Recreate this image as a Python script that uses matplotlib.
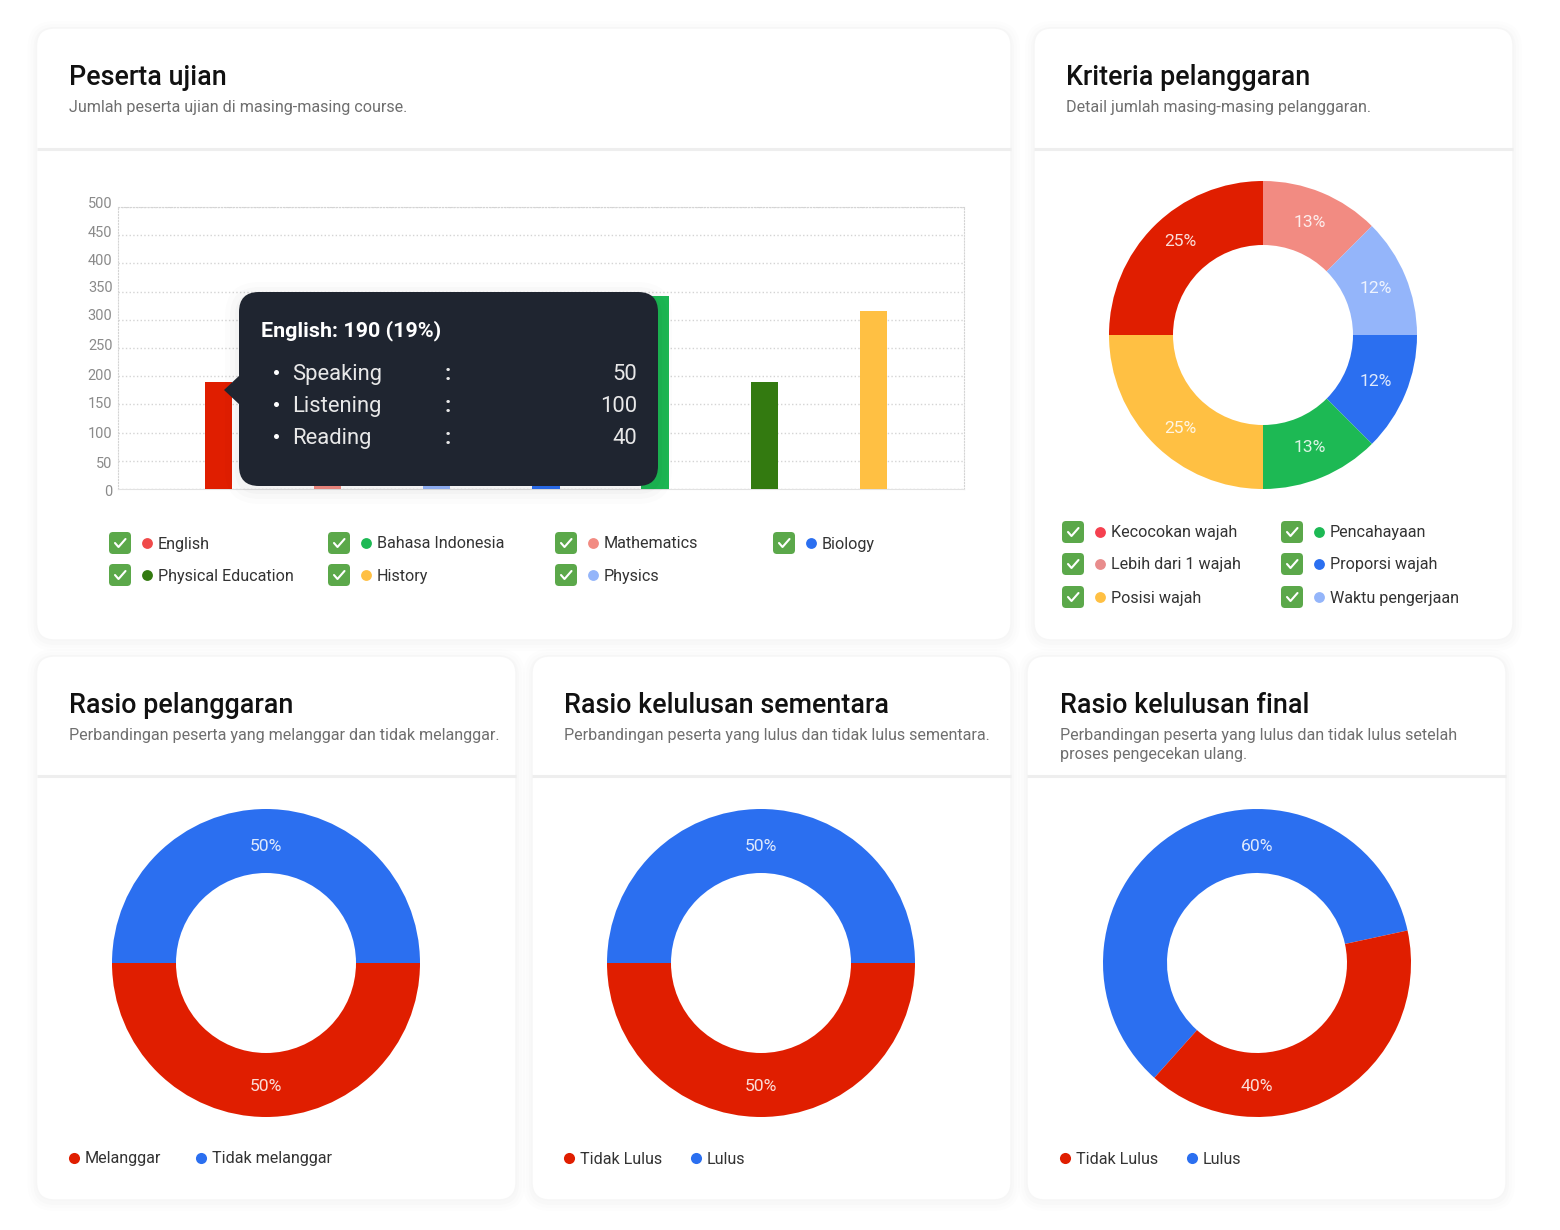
import matplotlib
matplotlib.use("Agg")
import matplotlib.pyplot as plt
from matplotlib.patches import FancyBboxPatch, Polygon
from matplotlib.transforms import ScaledTranslation

W, H = 1560, 1230

RED = "#E01E00"
SALMON = "#F28B82"
LIGHT_BLUE = "#94B5FA"
BLUE = "#2B6FF0"
GREEN = "#1DB954"
DARK_GREEN = "#337A10"
YELLOW = "#FFC043"

# bar chart
courses = ["English", "Mathematics", "Physics", "Biology", "Bahasa Indonesia", "Physical Education", "History"]
course_values = [190, 120, 90, 110, 342, 190, 315]
course_colors = [RED, SALMON, LIGHT_BLUE, BLUE, GREEN, DARK_GREEN, YELLOW]
y_ticks = [0, 50, 100, 150, 200, 250, 300, 350, 400, 450, 500]

tooltip_title = "English: 190 (19%)"
tooltip_labels = ["Speaking", "Listening", "Reading"]
tooltip_values = [50, 100, 40]

# donuts
criteria_values = [12.5, 12.5, 12.5, 12.5, 25, 25]
criteria_labels = ["13%", "12%", "12%", "13%", "25%", "25%"]
criteria_colors = [SALMON, LIGHT_BLUE, BLUE, GREEN, YELLOW, RED]
violation_values = [50, 50]
temp_pass_values = [50, 50]
final_pass_values = [60, 40]

legend_course = [
    ("English", "#F04A4A"), ("Bahasa Indonesia", GREEN), ("Mathematics", SALMON), ("Biology", BLUE),
    ("Physical Education", DARK_GREEN), ("History", YELLOW), ("Physics", LIGHT_BLUE),
]
legend_criteria = [
    ("Kecocokan wajah", "#F5404F"), ("Pencahayaan", GREEN), ("Lebih dari 1 wajah", "#E88C8C"),
    ("Proporsi wajah", BLUE), ("Posisi wajah", YELLOW), ("Waktu pengerjaan", LIGHT_BLUE),
]

plt.rcParams["font.family"] = ["Roboto", "DejaVu Sans"]

fig = plt.figure(figsize=(W / 100, H / 100), dpi=100, facecolor="white")


def px_axes(x0, y0, x1, y1, zorder=1):
    return fig.add_axes([x0 / W, 1 - y1 / H, (x1 - x0) / W, (y1 - y0) / H], zorder=zorder)


def pt(px):
    return px * 0.72


bg = px_axes(0, 0, W, H, zorder=0)
bg.set_xlim(0, W)
bg.set_ylim(H, 0)
bg.axis("off")

top = px_axes(0, 0, W, H, zorder=5)
top.set_xlim(0, W)
top.set_ylim(H, 0)
top.axis("off")
top.patch.set_alpha(0)


def card(x0, y0, x1, y1, divider, title, subtitle):
    for grow, alpha in [(9, 0.006), (6, 0.008), (3, 0.012)]:
        bg.add_patch(FancyBboxPatch((x0 - grow, y0 - grow + 2), x1 - x0 + 2 * grow, y1 - y0 + 2 * grow,
                                    boxstyle="round,pad=0,rounding_size=%d" % (18 + grow),
                                    fc="black", ec="none", alpha=alpha))
    bg.add_patch(FancyBboxPatch((x0, y0), x1 - x0, y1 - y0, boxstyle="round,pad=0,rounding_size=18",
                                fc="white", ec="#F6F6F6", lw=1))
    bg.plot([x0, x1], [divider, divider], color="#EEEEEE", lw=2.2, solid_capstyle="butt")
    tx = x0 + 32.5
    bg.text(tx, y0 + 57, title, fontsize=pt(26.9), weight="medium", color="#111111", va="baseline")
    for i, line in enumerate(subtitle):
        bg.text(tx, y0 + 84 + i * 19, line, fontsize=pt(16.15), color="#6F6F6F", va="baseline")


card(36.5, 28, 1011, 640, 149, "Peserta ujian", ["Jumlah peserta ujian di masing-masing course."])
card(1034, 28, 1513, 640, 149, "Kriteria pelanggaran", ["Detail jumlah masing-masing pelanggaran."])
card(36.5, 656, 516, 1200, 776, "Rasio pelanggaran", ["Perbandingan peserta yang melanggar dan tidak melanggar."])
card(532, 656, 1011, 1200, 776, "Rasio kelulusan sementara", ["Perbandingan peserta yang lulus dan tidak lulus sementara."])
card(1027, 656, 1506, 1200, 776, "Rasio kelulusan final",
     ["Perbandingan peserta yang lulus dan tidak lulus setelah", "proses pengecekan ulang."])

# bars
ax = px_axes(118, 207, 964, 489)
ax.patch.set_alpha(0)
ax.bar(range(len(courses)), course_values, width=0.25, color=course_colors, zorder=3)
ax.set_xlim(-0.92, 6.83)
ax.set_ylim(0, 500)
ax.set_xticks([])
ax.set_yticks(y_ticks)
ax.tick_params(axis="y", length=0, pad=4, labelsize=pt(14.5), labelcolor="#8A8A8A")
ax.grid(axis="y", color="#D4D4D4", ls=":", lw=1)
ax.set_axisbelow(True)
for side in ["top", "left", "right"]:
    ax.spines[side].set_color("#D4D4D4")
    ax.spines[side].set_linestyle(":")
ax.spines["bottom"].set_color("#E2E2E2")
# the labels sit a little off their gridlines in the original
label_nudge = [-1, -2, 0, 2, 2, 4, 5, 5, 4, 4, 4]
for label, nudge in zip(ax.get_yticklabels(), label_nudge):
    label.set_transform(label.get_transform() + ScaledTranslation(0, nudge / 100, fig.dpi_scale_trans))


def draw_donut(x, y, values, colors, startangle, labels=None, label_top=None):
    r = 154
    a = px_axes(x - r, y - r, x + r, y + r, zorder=2)
    text_style = {"color": "white", "alpha": 0.85, "fontsize": pt(17.5)}
    autopct = None
    if labels:
        names = iter(labels)
        autopct = lambda p: next(names)
    res = a.pie(values, colors=colors, startangle=startangle, counterclock=False, radius=1,
                wedgeprops={"width": 64 / 154}, autopct=autopct, pctdistance=0.79, textprops=text_style)
    a.set_xlim(-1, 1)
    a.set_ylim(-1, 1)
    if label_top:
        a.text(0, 0.755, label_top[0], ha="center", va="center", **text_style)
        a.text(0, -0.805, label_top[1], ha="center", va="center", **text_style)
    return res


criteria_pie = draw_donut(1263, 335, criteria_values, criteria_colors, 90, labels=criteria_labels)
criteria_pie[2][4].set_position((-0.539, -0.604))
criteria_pie[2][5].set_position((-0.539, 0.61))
draw_donut(266, 963, violation_values, [BLUE, RED], 180, label_top=("50%", "50%"))
draw_donut(761, 963, temp_pass_values, [BLUE, RED], 180, label_top=("50%", "50%"))
draw_donut(1257, 963, final_pass_values, [BLUE, RED], -131.8, label_top=("60%", "40%"))


# legends
def check_item(x, y, dot_dx, label, color):
    bg.add_patch(FancyBboxPatch((x - 11, y - 11), 22, 22, boxstyle="round,pad=0,rounding_size=4",
                                fc="#5BA84A", ec="none"))
    bg.plot([x - 5, x - 1.5, x + 5.5], [y, y + 4, y - 4], color="white", lw=1.5,
            solid_capstyle="round", solid_joinstyle="round")
    bg.plot(x + dot_dx, y, "o", ms=7.8, color=color, mec="none")
    bg.text(x + dot_dx + 11, y + 5.5, label, fontsize=pt(16.1), color="#333333", va="baseline")


course_slots = [(120, 543), (339, 543), (566, 543), (784, 543), (120, 575), (339, 575), (566, 575)]
for (label, color), (x, y) in zip(legend_course, course_slots):
    check_item(x, y, 27, label, color)

criteria_slots = [(1073, 532), (1292, 532), (1073, 564), (1292, 564), (1073, 597), (1292, 597)]
for (label, color), (x, y) in zip(legend_criteria, criteria_slots):
    check_item(x, y, 27, label, color)


def dot_item(x, y, label, color):
    bg.plot(x, y, "o", ms=8, color=color, mec="none")
    bg.text(x + 11, y + 5.5, label, fontsize=pt(16.1), color="#333333", va="baseline")


dot_item(74, 1158, "Melanggar", RED)
dot_item(201, 1158, "Tidak melanggar", BLUE)
dot_item(569, 1158, "Tidak Lulus", RED)
dot_item(696, 1158, "Lulus", BLUE)
dot_item(1065, 1158, "Tidak Lulus", RED)
dot_item(1192, 1158, "Lulus", BLUE)

# tooltip
for grow, alpha in [(14, 0.012), (9, 0.015), (4, 0.02)]:
    top.add_patch(FancyBboxPatch((239 - grow, 292 - grow + 4), 419 + 2 * grow, 194 + 2 * grow,
                                 boxstyle="round,pad=0,rounding_size=%d" % (20 + grow),
                                 fc="black", ec="none", alpha=alpha))
top.add_patch(FancyBboxPatch((239, 292), 419, 194, boxstyle="round,pad=0,rounding_size=20",
                             fc="#1F2530", ec="none"))
top.add_patch(Polygon([(240, 375), (224, 390), (240, 405)], closed=True, fc="#1F2530", ec="none"))
top.text(261, 336, tooltip_title, color="white", fontsize=pt(21.5), weight="bold", va="baseline")
for i, (label, val) in enumerate(zip(tooltip_labels, tooltip_values)):
    y = 380 + i * 32
    top.plot(276, y - 8, "o", ms=3.6, color="white", mec="none")
    top.text(292.5, y, label, color="#E8E8E8", fontsize=pt(22), va="baseline")
    top.text(448, y, ":", color="#E8E8E8", fontsize=pt(22), weight="bold", ha="center", va="baseline")
    top.text(637, y, str(val), color="#E8E8E8", fontsize=pt(22), ha="right", va="baseline")

fig.savefig("out.png", dpi=100, facecolor="white")
